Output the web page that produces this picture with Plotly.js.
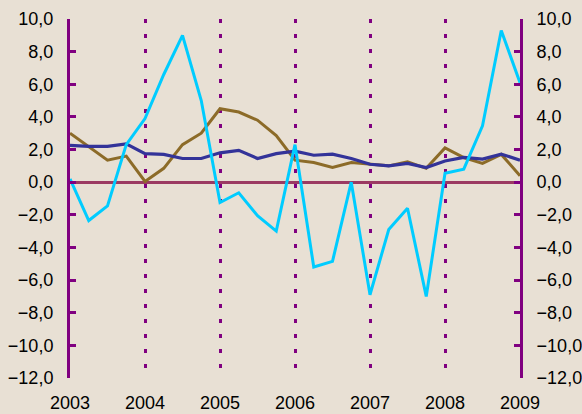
<!DOCTYPE html>
<html>
<head>
<meta charset="utf-8">
<script src="https://cdn.plot.ly/plotly-3.0.1.min.js"></script>
<style>
html,body{margin:0;padding:0;background:#E8E0D4;}
#chart{width:582px;height:414px;}
</style>
</head>
<body>
<div id="chart"></div>
<script>
var quarters = [2003, 2003.25, 2003.5, 2003.75, 2004, 2004.25, 2004.5, 2004.75,
  2005, 2005.25, 2005.5, 2005.75, 2006, 2006.25, 2006.5, 2006.75,
  2007, 2007.25, 2007.5, 2007.75, 2008, 2008.25, 2008.5, 2008.75, 2009];

var cyanSeries = [0.2, -2.35, -1.45, 2.3, 3.9, 6.6, 9.0, 5.0,
  -1.25, -0.65, -2.05, -3.0, 2.3, -5.2, -4.85, 0.0,
  -6.9, -2.9, -1.6, -7.0, 0.55, 0.8, 3.45, 9.3, 6.1];

var brownSeries = [3.0, 2.15, 1.35, 1.6, 0.05, 0.85, 2.3, 3.0,
  4.5, 4.3, 3.8, 2.85, 1.35, 1.2, 0.9, 1.2,
  1.1, 1.0, 1.25, 0.85, 2.1, 1.5, 1.15, 1.7, 0.4];

var navySeries = [2.25, 2.2, 2.2, 2.35, 1.75, 1.7, 1.45, 1.45,
  1.8, 1.95, 1.45, 1.75, 1.9, 1.65, 1.72, 1.45,
  1.1, 1.0, 1.15, 0.9, 1.3, 1.52, 1.42, 1.72, 1.35];

var yearTicks = [2003, 2004, 2005, 2006, 2007, 2008, 2009];
var yearLabels = ['2003', '2004', '2005', '2006', '2007', '2008', '2009'];
var valueTicks = [-12, -10, -8, -6, -4, -2, 0, 2, 4, 6, 8, 10];

var purple = '#800080';
var font = {family: 'Liberation Sans, Arial, sans-serif', size: 18, color: '#000000'};

var traces = [
  {x: quarters, y: brownSeries, type: 'scatter', mode: 'lines',
   line: {color: '#8C6B28', width: 3}, hoverinfo: 'skip'},
  {x: quarters, y: navySeries, type: 'scatter', mode: 'lines',
   line: {color: '#333399', width: 3.2}, hoverinfo: 'skip'},
  {x: quarters, y: cyanSeries, type: 'scatter', mode: 'lines',
   line: {color: '#00CCFF', width: 3}, hoverinfo: 'skip'},
  {x: quarters, y: cyanSeries, type: 'scatter', mode: 'lines', yaxis: 'y2',
   line: {color: 'rgba(0,0,0,0)', width: 0}, hoverinfo: 'skip'}
];

var yaxisCommon = {
  range: [-12, 10], tickvals: valueTicks, tickformat: '.1f',
  showgrid: false, showline: true, linecolor: purple, linewidth: 3,
  ticks: 'inside', ticklen: 6, tickwidth: 3, tickcolor: purple,
  tickfont: font, ticklabelstandoff: 10, fixedrange: true
};

var layout = {
  width: 582, height: 414,
  margin: {l: 70, r: 62, t: 19, b: 36, pad: 0},
  paper_bgcolor: '#E8E0D4', plot_bgcolor: '#E8E0D4',
  separators: ',.',
  showlegend: false,
  xaxis: {
    range: [2003, 2009], tickvals: yearTicks, ticktext: yearLabels,
    showgrid: true, gridcolor: purple, gridwidth: 3, griddash: '4px,11px',
    showline: false, zeroline: false, ticks: '', tickfont: font,
    ticklabelstandoff: 12, fixedrange: true
  },
  yaxis: Object.assign({}, yaxisCommon, {
    zeroline: true, zerolinecolor: '#9B3A62', zerolinewidth: 3, side: 'left'
  }),
  yaxis2: Object.assign({}, yaxisCommon, {
    overlaying: 'y', side: 'right', zeroline: false
  })
};

Plotly.newPlot('chart', traces, layout, {displayModeBar: false, staticPlot: true});
</script>
</body>
</html>
